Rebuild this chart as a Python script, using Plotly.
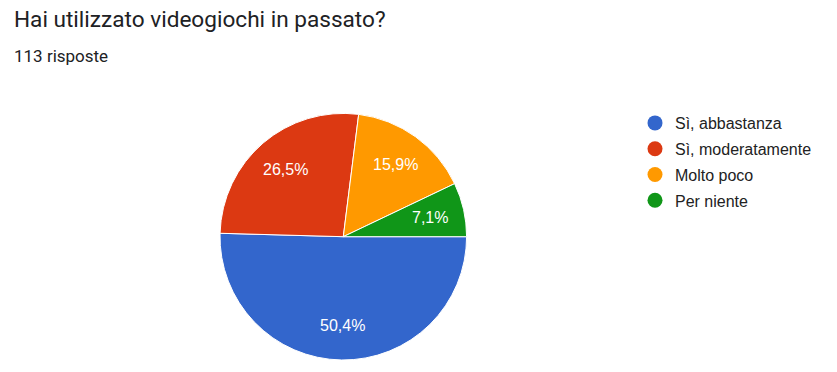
import math
import plotly.graph_objects as go

labels = ["Sì, abbastanza", "Sì, moderatamente", "Molto poco", "Per niente"]
values = [57, 30, 18, 8]
colors = ["#3366cc", "#dc3912", "#ff9900", "#109618"]
title_text = "Hai utilizzato videogiochi in passato?"
subtitle_text = "113 risposte"

W, H = 837, 372
cx, cy, r = 343.3, 236.7, 123.3
start_deg = 90
label_frac = 0.72

fig = go.Figure()
fig.add_trace(go.Pie(
    labels=labels, values=values, sort=False, direction="clockwise", rotation=start_deg,
    marker=dict(colors=colors, line=dict(color="white", width=1)),
    textinfo="none",
    showlegend=False, hoverinfo="label+percent",
    domain=dict(x=[(cx - r) / W, (cx + r) / W], y=[(H - cy - r) / H, (H - cy + r) / H]),
))
for i, (lab, col) in enumerate(zip(labels, colors)):
    fig.add_trace(go.Scatter(x=[None], y=[None], mode="markers", name=lab,
                             legendgroup=f"g{i}",
                             marker=dict(symbol="circle", size=15, color=col)))

# percentage labels placed along each slice's bisector
total = sum(values)
annotations = []
acc = 0
for v in values:
    mid = start_deg + 360 * (acc + v / 2) / total
    acc += v
    a = math.radians(mid)
    px = cx + label_frac * r * math.sin(a)
    py = cy - label_frac * r * math.cos(a)
    pct = f"{100 * v / total:.1f}".replace(".", ",") + "%"
    annotations.append(dict(text=pct, x=px / W, y=1 - py / H, xref="paper", yref="paper",
                            xanchor="center", yanchor="middle", showarrow=False,
                            font=dict(family="Arial, Liberation Sans", size=16, color="white")))

annotations += [
    dict(text=title_text, x=12 / W, y=1 - 4 / H, xref="paper", yref="paper",
         xanchor="left", yanchor="top", showarrow=False,
         font=dict(family="Roboto", size=22.6, color="#202124")),
    dict(text=subtitle_text, x=12 / W, y=1 - 44 / H, xref="paper", yref="paper",
         xanchor="left", yanchor="top", showarrow=False,
         font=dict(family="Roboto", size=17, color="#202124")),
]

fig.update_layout(
    width=W, height=H, margin=dict(l=0, r=0, t=0, b=0),
    paper_bgcolor="white", plot_bgcolor="white",
    xaxis=dict(visible=False), yaxis=dict(visible=False),
    legend=dict(x=635 / W, y=(H - 106) / H, xanchor="left", yanchor="top",
                font=dict(family="Arial, Liberation Sans", size=16, color="#222222"),
                traceorder="grouped", tracegroupgap=2, itemclick=False),
    annotations=annotations,
)
fig.write_html("out.html", config={"displayModeBar": False},
               post_script="document.body.style.margin='0';")
